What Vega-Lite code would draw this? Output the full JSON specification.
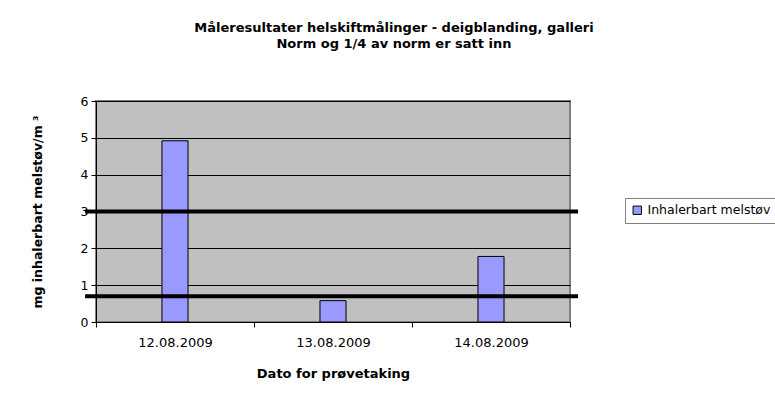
{
  "$schema": "https://vega.github.io/schema/vega-lite/v6.json",
  "autosize": {"type": "none"},
  "width": 474,
  "height": 221,
  "padding": {"left": 96, "top": 101, "right": 205, "bottom": 82},
  "background": "white",
  "config": {
    "font": "DejaVu Sans",
    "view": {"fill": "#c0c0c0", "stroke": "#808080", "strokeWidth": 2}
  },
  "title": {
    "text": ["Måleresultater helskiftmålinger - deigblanding, galleri", "Norm og 1/4 av norm er satt inn"],
    "fontSize": 13,
    "fontWeight": "bold",
    "font": "DejaVu Sans",
    "color": "#000",
    "lineHeight": 16,
    "anchor": "middle",
    "frame": "group",
    "dx": 61,
    "offset": 44
  },
  "datasets": {
    "bars": [
      {"dato": "12.08.2009", "verdi": 4.92, "serie": "Inhalerbart melstøv"},
      {"dato": "13.08.2009", "verdi": 0.58, "serie": "Inhalerbart melstøv"},
      {"dato": "14.08.2009", "verdi": 1.78, "serie": "Inhalerbart melstøv"}
    ],
    "normer": [
      {"verdi": 3, "navn": "Norm"},
      {"verdi": 0.7, "navn": "1/4 av norm"}
    ]
  },
  "encoding": {
    "y": {
      "field": "verdi", "type": "quantitative",
      "scale": {"domain": [0, 6], "nice": false},
      "axis": {
        "title": "mg inhalerbart melstøv/m   ³",
        "titleFontSize": 12.5, "titleFontWeight": "bold", "titleColor": "#000", "titlePadding": 36,
        "values": [0, 1, 2, 3, 4, 5, 6],
        "labelOverlap": false,
        "labelFontSize": 12.5, "labelColor": "#000", "labelPadding": 3,
        "tickSize": 5, "tickColor": "#000", "domainColor": "#000",
        "grid": true,
        "gridColor": "#000",
        "gridWidth": 1
      }
    }
  },
  "layer": [
    {
      "data": {"name": "bars"},
      "mark": {"type": "bar", "width": {"band": 0.165}, "stroke": "#000", "strokeWidth": 1},
      "encoding": {
        "x": {
          "field": "dato", "type": "nominal", "sort": null,
          "scale": {"paddingInner": 0, "paddingOuter": 0},
          "axis": {
            "title": "Dato for prøvetaking",
            "titleFontSize": 13, "titleFontWeight": "bold", "titleColor": "#000", "titlePadding": 18,
            "labelAngle": 0, "labelFontSize": 13, "labelColor": "#000", "labelPadding": 9,
            "tickBand": "extent", "tickSize": 5, "tickColor": "#000", "domainColor": "#000",
            "grid": false
          }
        },
        "color": {
          "field": "serie", "type": "nominal",
          "scale": {"range": ["#9999ff"]},
          "legend": {
            "title": null,
            "orient": "none",
            "legendX": 529,
            "legendY": 97,
            "padding": 6,
            "strokeColor": "#808080",
            "fillColor": "#ffffff",
            "symbolType": "square",
            "symbolSize": 70,
            "symbolStrokeColor": "#000",
            "symbolStrokeWidth": 1,
            "labelFontSize": 12.5,
            "labelColor": "#000",
            "labelOffset": 4
          }
        }
      }
    },
    {
      "data": {"name": "normer"},
      "mark": {"type": "rule", "color": "#000", "strokeWidth": 4, "clip": false},
      "encoding": {
        "x": {"datum": -0.023, "type": "quantitative", "scale": {"domain": [0, 1], "nice": false, "zero": false}, "axis": null},
        "x2": {"datum": 1.017}
      }
    }
  ],
  "resolve": {"scale": {"x": "independent"}}
}
